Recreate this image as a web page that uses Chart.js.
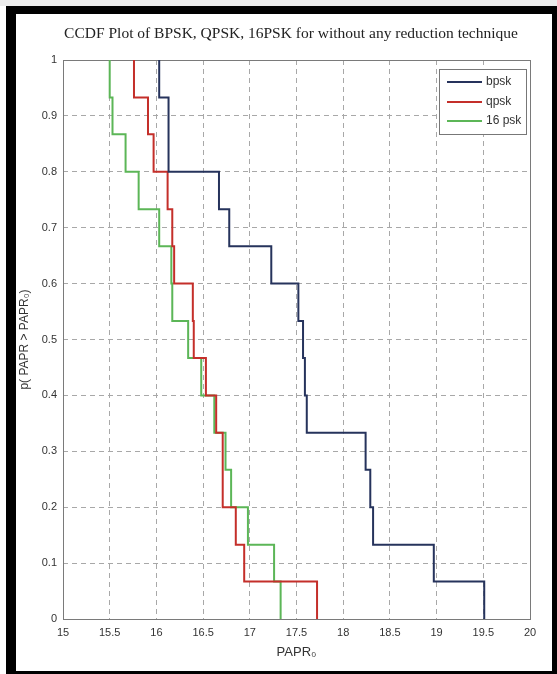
<!DOCTYPE html>
<html>
<head>
<meta charset="utf-8">
<script src="https://cdn.jsdelivr.net/npm/chart.js@4.4.0/dist/chart.umd.min.js"></script>
<style>
  html, body { margin: 0; padding: 0; background: #ffffff; }
  #wrap { position: relative; width: 557px; height: 674px; overflow: hidden; }
  #topband { position: absolute; left: 0; top: 0; width: 557px; height: 6px; background: #ececec; }
  #frame { position: absolute; left: 6px; top: 6px; width: 551px; height: 668px; box-sizing: border-box;
           border-left: 10px solid #000; border-top: 8px solid #000; border-right: 5px solid #000; border-bottom: 3px solid #000;
           pointer-events: none; }
  canvas { position: absolute; left: 0; top: 0; }
</style>
</head>
<body>
<div id="wrap">
  <canvas id="c" width="557" height="674"></canvas>
  <div id="topband"></div>
  <div id="frame"></div>
</div>
<script>
// ---- data (stair plots, x = PAPR0 where the curve drops, y = level after the drop)
const chartTitle = "CCDF Plot of BPSK, QPSK, 16PSK for without any reduction technique";
const xAxisLabel = "PAPR\u2080";
const yAxisLabel = "p( PAPR > PAPR\u2080)";
const seriesNames = ["bpsk", "qpsk", "16 psk"];

const bpskX = [16.03, 16.03, 16.13, 16.67, 16.78, 17.23, 17.52, 17.57, 17.59, 17.61, 18.24, 18.29, 18.32, 18.97, 19.51];
const bpskY = [1, 0.933, 0.8, 0.733, 0.667, 0.6, 0.533, 0.467, 0.4, 0.333, 0.267, 0.2, 0.133, 0.067, 0];

const qpskX = [15.76, 15.76, 15.91, 15.97, 16.12, 16.17, 16.19, 16.39, 16.40, 16.53, 16.64, 16.71, 16.85, 16.94, 17.72];
const qpskY = [1, 0.933, 0.867, 0.8, 0.733, 0.667, 0.6, 0.533, 0.467, 0.4, 0.333, 0.2, 0.133, 0.067, 0];

const psk16X = [15.50, 15.50, 15.53, 15.67, 15.81, 16.03, 16.16, 16.17, 16.34, 16.48, 16.62, 16.74, 16.80, 16.98, 17.26, 17.33];
const psk16Y = [1, 0.933, 0.867, 0.8, 0.733, 0.667, 0.6, 0.533, 0.467, 0.4, 0.333, 0.267, 0.2, 0.133, 0.067, 0];

const xTickMin = 15, xTickMax = 20, xTickStep = 0.5;
const yTickMin = 0, yTickMax = 1, yTickStep = 0.1;

const colors = ["#26335c", "#c42f2a", "#5cb657"];

function pts(xs, ys) { return xs.map((x, i) => ({x: x, y: ys[i]})); }
function fmt(v) { return String(Number(Number(v).toFixed(2))); }

const titlePlugin = {
  id: 'titleText',
  afterDraw(chart) {
    const ctx = chart.ctx;
    ctx.save();
    ctx.font = '15.5px "Liberation Serif", "Times New Roman", serif';
    ctx.fillStyle = '#222';
    ctx.textAlign = 'center';
    ctx.textBaseline = 'middle';
    ctx.fillText(chartTitle, 291, 34);
    ctx.restore();
  }
};

const boxPlugin = {
  id: 'axesBox',
  beforeDatasetsDraw(chart) {
    const a = chart.chartArea, ctx = chart.ctx;
    ctx.save();
    ctx.strokeStyle = '#7a7a7a';
    ctx.lineWidth = 1;
    ctx.strokeRect(Math.round(a.left) + 0.5, Math.round(a.top) + 0.5, Math.round(a.right - a.left), Math.round(a.bottom - a.top));
    ctx.restore();
  }
};

const legendPlugin = {
  id: 'boxLegend',
  afterDraw(chart) {
    const ctx = chart.ctx;
    const x0 = 439.5, y0 = 69.5, w = 87, h = 65;
    ctx.save();
    ctx.fillStyle = '#fff';
    ctx.fillRect(x0, y0, w, h);
    ctx.strokeStyle = '#777';
    ctx.lineWidth = 1;
    ctx.strokeRect(x0, y0, w, h);
    const rows = [82, 102, 121];
    ctx.font = '12px "Liberation Sans", Arial, sans-serif';
    ctx.textBaseline = 'middle';
    ctx.textAlign = 'left';
    chart.data.datasets.forEach((ds, i) => {
      ctx.strokeStyle = ds.borderColor;
      ctx.lineWidth = 2;
      ctx.beginPath();
      ctx.moveTo(447, rows[i]);
      ctx.lineTo(482, rows[i]);
      ctx.stroke();
      ctx.fillStyle = '#333';
      ctx.fillText(ds.label, 486, rows[i]);
    });
    ctx.restore();
  }
};

const gridStyle = { color: '#a8a8a8', lineWidth: 1, drawTicks: false };
const tickFont = { family: '"Liberation Sans", Arial, sans-serif', size: 11 };

new Chart(document.getElementById('c'), {
  type: 'line',
  data: {
    datasets: [
      { label: seriesNames[0], data: pts(bpskX, bpskY), borderColor: colors[0] },
      { label: seriesNames[1], data: pts(qpskX, qpskY), borderColor: colors[1] },
      { label: seriesNames[2], data: pts(psk16X, psk16Y), borderColor: colors[2] }
    ].map(d => Object.assign(d, { stepped: 'before', borderWidth: 2, pointRadius: 0, fill: false, tension: 0 }))
  },
  options: {
    responsive: false,
    animation: false,
    devicePixelRatio: 1,
    layout: { padding: { left: 0, right: 27, top: 60, bottom: 0 } },
    plugins: { legend: { display: false }, title: { display: false }, tooltip: { enabled: false } },
    scales: {
      x: {
        type: 'linear', min: xTickMin, max: xTickMax,
        ticks: { stepSize: xTickStep, padding: 7, color: '#333', font: tickFont, maxRotation: 0, autoSkip: false, callback: v => fmt(v) },
        grid: gridStyle,
        border: { display: false, dash: [5, 4] },
        title: { display: true, text: xAxisLabel, color: '#333', font: { family: '"Liberation Sans", Arial, sans-serif', size: 13 }, padding: { top: 0, bottom: 14 } },
        afterFit(s) { s.height = 55; }
      },
      y: {
        type: 'linear', min: yTickMin, max: yTickMax,
        ticks: { stepSize: yTickStep, padding: 6, color: '#333', font: tickFont, autoSkip: false, callback: v => fmt(v) },
        grid: gridStyle,
        border: { display: false, dash: [5, 4] },
        title: { display: true, text: yAxisLabel, color: '#333', font: { family: '"Liberation Sans", Arial, sans-serif', size: 12 }, padding: { top: 17, bottom: 0 } },
        afterFit(s) { s.width = 63; }
      }
    }
  },
  plugins: [boxPlugin, legendPlugin, titlePlugin]
});
</script>
</body>
</html>
